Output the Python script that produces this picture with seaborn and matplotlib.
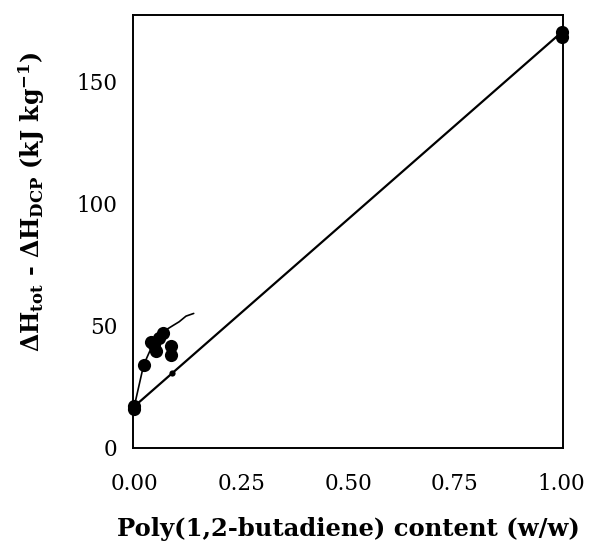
import matplotlib
matplotlib.use("Agg")
import matplotlib.pyplot as plt
import seaborn as sns

# Measured enthalpy differences vs. poly(1,2-butadiene) content
content = [0.0, 0.0, 0.022, 0.039, 0.047, 0.051, 0.058, 0.067, 0.086, 0.086, 1.0, 1.0]
dH = [17, 16, 34, 43.5, 42, 39.5, 45, 47, 41.5, 38, 170, 168]

# Additivity line between the pure components
lin_x = [0.0, 1.0]
lin_y = [17, 170]
# Point on the additivity line
ref_x = [0.088]
ref_y = [30.5]

# Trend through the low-content data
trend_x = [0.0, 0.022, 0.045, 0.067, 0.09, 0.105, 0.121, 0.139]
trend_y = [17, 34, 43, 47.5, 50, 51.6, 53.9, 55]

sns.set_style("white")
plt.rcParams['font.family'] = ['DejaVu Serif']
plt.rcParams['text.color'] = 'black'
plt.rcParams['axes.labelcolor'] = 'black'
plt.rcParams['mathtext.fontset'] = 'custom'
plt.rcParams['mathtext.bf'] = 'DejaVu Serif:bold'
plt.rcParams['mathtext.rm'] = 'DejaVu Serif:bold'
plt.rcParams['mathtext.default'] = 'bf'

fig = plt.figure(figsize=(5.89, 5.49), dpi=100)
ax = fig.add_axes([0.2258, 0.184, 0.7301, 0.7887])

sns.lineplot(x=lin_x, y=lin_y, ax=ax, color='black', lw=1.6, sort=False)
sns.lineplot(x=trend_x, y=trend_y, ax=ax, color='black', lw=1.2, sort=False)
sns.scatterplot(x=content, y=dH, ax=ax, color='black', s=90, edgecolor='black',
                linewidth=0, zorder=5, clip_on=False)
sns.scatterplot(x=ref_x, y=ref_y, ax=ax, color='black', s=20, edgecolor='black',
                linewidth=0, zorder=5)

ax.set_xlim(-0.003, 1.003)
ax.set_ylim(0, 177)
ax.set_xticks([0.0, 0.25, 0.5, 0.75, 1.0])
ax.set_xticklabels(['0.00', '0.25', '0.50', '0.75', '1.00'])
ax.set_yticks([0, 50, 100, 150])

for s in ax.spines.values():
    s.set_visible(True)
    s.set_color('black')
    s.set_linewidth(1.4)

ax.tick_params(axis='both', direction='in', length=6, width=1.2, labelsize=15.5,
               colors='black', top=False, right=False)
ax.tick_params(axis='y', pad=11)
ax.tick_params(axis='x', pad=18)

ax.set_xlabel('Poly(1,2-butadiene) content (w/w)', fontsize=17.5, fontweight='bold',
              labelpad=16)
ax.set_ylabel(r'ΔH$_{tot}$ - ΔH$_{DCP}$ (kJ kg$^{-1}$)', fontsize=17,
              fontweight='bold', labelpad=16)
ax.yaxis.set_label_coords(-0.20, 0.57)

fig.savefig('out.png', dpi=100)
